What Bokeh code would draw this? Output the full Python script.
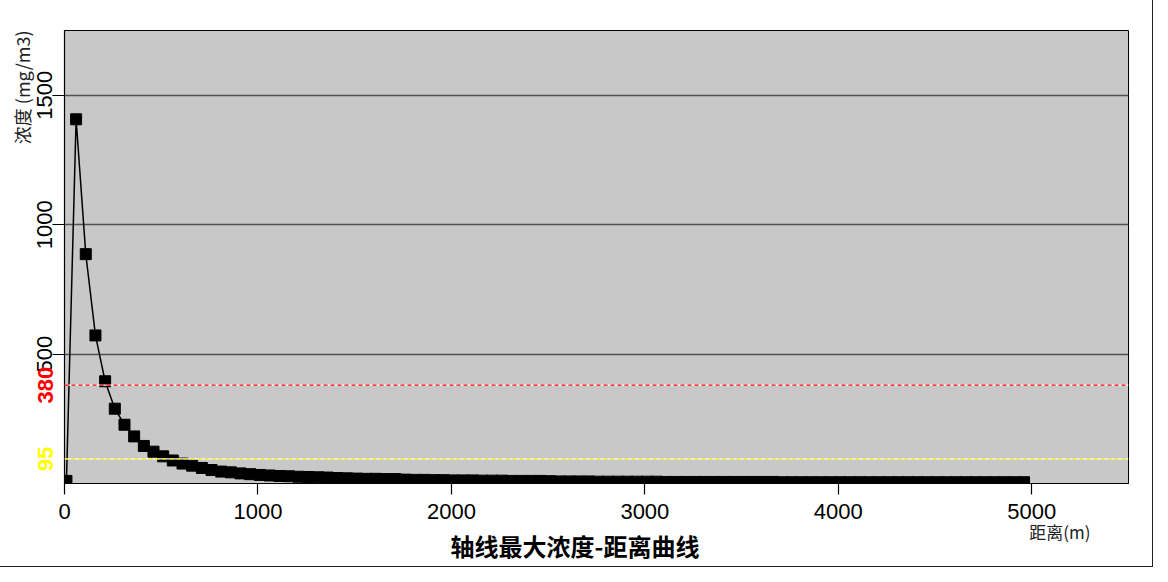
from bokeh.plotting import figure
from bokeh.models import Range1d, FixedTicker, Span, LinearAxis, Title
from bokeh.embed import file_html
from bokeh.resources import INLINE

# ---- data ----
distance = [10, 60, 110, 160, 210, 260, 310, 360, 410, 460,
            510, 560, 610, 660, 710, 760, 810, 860, 910, 960,
            1010, 1060, 1110, 1160, 1210, 1260, 1310, 1360, 1410, 1460,
            1510, 1560, 1610, 1660, 1710, 1760, 1810, 1860, 1910, 1960,
            2010, 2060, 2110, 2160, 2210, 2260, 2310, 2360, 2410, 2460,
            2510, 2560, 2610, 2660, 2710, 2760, 2810, 2860, 2910, 2960,
            3010, 3060, 3110, 3160, 3210, 3260, 3310, 3360, 3410, 3460,
            3510, 3560, 3610, 3660, 3710, 3760, 3810, 3860, 3910, 3960,
            4010, 4060, 4110, 4160, 4210, 4260, 4310, 4360, 4410, 4460,
            4510, 4560, 4610, 4660, 4710, 4760, 4810, 4860, 4910, 4960]
concentration = [10, 1407, 886, 572, 395, 289, 227, 182, 145, 123,
                 105, 89, 77, 69, 60, 52, 46, 43, 39, 36,
                 33, 31, 29, 28, 26, 25, 24, 23, 21, 20,
                 19, 18, 18, 17, 17, 15, 14, 14, 13, 13,
                 12, 12, 12, 11, 11, 11, 10, 10, 10, 10,
                 9, 8, 8, 8, 8, 7, 7, 7, 7, 7,
                 7, 7, 6, 6, 6, 6, 6, 6, 6, 6,
                 6, 6, 6, 6, 5, 5, 5, 5, 5, 5,
                 5, 5, 5, 5, 5, 5, 5, 5, 5, 5,
                 5, 5, 5, 5, 5, 5, 5, 5, 5, 5]
x_ticks = [0, 1000, 2000, 3000, 4000, 5000]
y_ticks = [500, 1000, 1500]
threshold_high = 380
threshold_low = 95
title_text = "轴线最大浓度-距离曲线"
x_title = "距离(m)"
y_title = "浓度 (mg/m3)"

p = figure(width=1152, height=566, output_backend="svg", toolbar_location=None,
           x_range=Range1d(0, 5500), y_range=Range1d(0, 1750),
           min_border_left=64, min_border_right=24, min_border_top=30, min_border_bottom=83)
p.styles = {"outline": "1px solid #222"}
p.background_fill_color = "#c8c8c8"
p.border_fill_color = "white"
p.outline_line_color = "black"
p.outline_line_width = 1

tick_font = "Liberation Sans"
for ax in (p.xaxis[0], p.yaxis[0]):
    ax.axis_line_color = "black"
    ax.axis_line_width = 1.2
    ax.major_tick_in = 0
    ax.minor_tick_line_color = None
    ax.major_tick_line_color = "black"
    ax.major_tick_line_width = 1.2
    ax.major_label_text_font = tick_font
    ax.major_label_text_font_size = "22px"
    ax.major_label_text_color = "black"

p.xaxis[0].ticker = FixedTicker(ticks=x_ticks)
p.xaxis[0].major_tick_out = 11
p.xaxis[0].major_label_standoff = 9
p.yaxis[0].ticker = FixedTicker(ticks=y_ticks)
p.yaxis[0].major_tick_out = 12
p.yaxis[0].major_label_standoff = 0
p.yaxis[0].major_label_orientation = "vertical"

p.xgrid.grid_line_color = None
p.ygrid.grid_line_color = "#505050"
p.ygrid.grid_line_width = 1.3

for loc, col in ((threshold_high, "red"), (threshold_low, "#f2e600")):
    p.add_layout(Span(location=loc, dimension="width", line_color="white", line_width=1.4))
    p.add_layout(Span(location=loc, dimension="width", line_color=col, line_width=1.4,
                      line_dash="4 3"))

p.line(distance, concentration, line_color="black", line_width=1.5)
p.scatter(distance, concentration, marker="square", size=11, fill_color="black", line_color="black")

# threshold value labels: extra left axes whose labels are pulled back over the main labels
for loc, col in ((threshold_high, "red"), (threshold_low, "#ffff00")):
    ax = LinearAxis(ticker=FixedTicker(ticks=[loc]))
    ax.axis_line_color = None
    ax.major_tick_line_color = None
    ax.minor_tick_line_color = None
    ax.major_tick_in = 0
    ax.major_tick_out = 0
    ax.minor_tick_in = 0
    ax.minor_tick_out = 0
    ax.major_label_orientation = "vertical"
    ax.major_label_standoff = -19
    ax.major_label_text_font = tick_font
    ax.major_label_text_font_size = "22px"
    ax.major_label_text_font_style = "bold"
    ax.major_label_text_color = col
    p.add_layout(ax, "left")

# y-axis title at top-left
p.add_layout(Title(text=y_title, align="right", offset=0, standoff=0,
                   text_font="Noto Sans CJK SC", text_font_size="18px",
                   text_font_style="normal", text_color="#222"), "left")
# x-axis title at bottom-right
p.add_layout(Title(text=x_title, align="right", offset=38, standoff=-9,
                   text_font="Noto Sans CJK SC", text_font_size="17px",
                   text_font_style="normal", text_color="#222"), "below")
# chart title below
p.add_layout(Title(text=title_text, align="left", offset=386, standoff=-28,
                   text_font="Noto Sans CJK SC", text_font_size="24px",
                   text_font_style="bold", text_color="black"), "below")

open("out.html", "w").write(file_html(p, INLINE))
